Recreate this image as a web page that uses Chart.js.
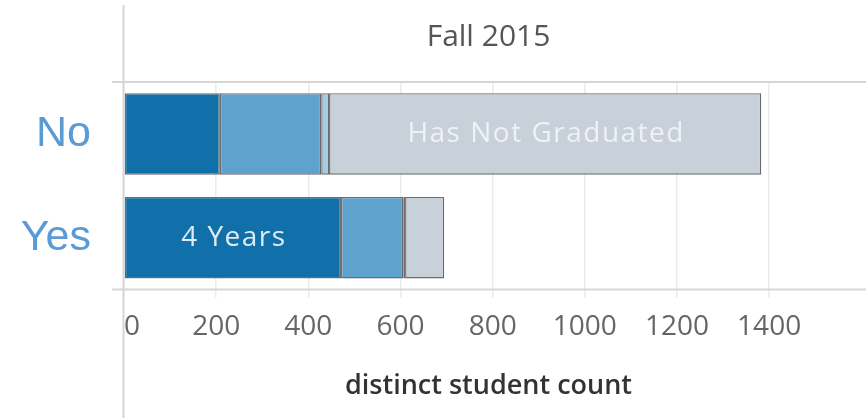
<!DOCTYPE html>
<html>
<head>
<meta charset="utf-8">
<script src="https://cdn.jsdelivr.net/npm/chart.js@4"></script>
<style>
  html, body { margin: 0; padding: 0; background: #fff; }
  #wrap { width: 866px; height: 418px; position: relative; }
</style>
</head>
<body>
<div id="wrap"><canvas id="c" width="866" height="418"></canvas></div>
<script>
// ---- data ----
const categories = ['No', 'Yes'];
const seriesNames = ['4 Years', '5 Years', '6 Years', 'Has Not Graduated'];
const fourYears = [208, 471];
const fiveYears = [220, 135];
const sixYears = [17, 4];
const notGraduated = [938, 85];
const xTickValues = [0, 200, 400, 600, 800, 1000, 1200, 1400];
const xAxisMax = 1582;
const headerText = 'Fall 2015';
const xAxisTitle = 'distinct student count';

const seriesValues = [fourYears, fiveYears, sixYears, notGraduated];
const seriesColors = ['#1170aa', '#5fa2ce', '#a3cce9', '#c8d0d9'];
const labelColors = ['rgba(235,241,246,0.95)', 'rgba(255,255,255,0.9)', 'rgba(255,255,255,0.9)', 'rgba(240,243,246,0.95)'];

const frame = {
  id: 'frame',
  beforeDatasetsDraw(chart) {
    const {ctx, chartArea: a} = chart;
    ctx.save();
    ctx.strokeStyle = '#d6d6d6';
    ctx.lineWidth = 2;
    ctx.beginPath();
    ctx.moveTo(a.left - 0.5, 5);
    ctx.lineTo(a.left - 0.5, chart.height);
    ctx.moveTo(a.left - 12, a.top);
    ctx.lineTo(chart.width, a.top);
    ctx.moveTo(a.left - 12, a.bottom);
    ctx.lineTo(chart.width, a.bottom);
    ctx.stroke();
    ctx.restore();
  }
};

const markLabels = {
  id: 'markLabels',
  afterDatasetsDraw(chart) {
    const {ctx} = chart;
    ctx.save();
    ctx.font = '28px "Open Sans"';
    ctx.letterSpacing = '1.5px';
    ctx.textAlign = 'center';
    ctx.textBaseline = 'middle';
    chart.data.datasets.forEach((ds, di) => {
      const meta = chart.getDatasetMeta(di);
      meta.data.forEach((bar) => {
        const w = Math.abs(bar.x - bar.base);
        const tw = ctx.measureText(ds.label).width;
        if (tw + 20 < w) {
          ctx.fillStyle = labelColors[di];
          ctx.fillText(ds.label, (bar.x + bar.base) / 2 + 1, bar.y);
        }
      });
    });
    ctx.restore();
  }
};

new Chart(document.getElementById('c'), {
  type: 'bar',
  data: {
    labels: categories,
    datasets: seriesNames.map((name, i) => ({
      label: name,
      data: seriesValues[i],
      backgroundColor: seriesColors[i],
      borderColor: '#6b6b6b',
      borderWidth: 1.4,
      borderSkipped: false,
      barPercentage: 0.785,
      categoryPercentage: 1.0
    }))
  },
  options: {
    indexAxis: 'y',
    responsive: false,
    animation: false,
    devicePixelRatio: 1,
    layout: { padding: 0 },
    plugins: {
      legend: { display: false },
      tooltip: { enabled: false },
      title: { display: false }
    },
    scales: {
      x: {
        type: 'linear',
        position: 'bottom',
        stacked: true,
        min: 0,
        max: xAxisMax,
        afterBuildTicks(scale) {
          scale.ticks = xTickValues.map(v => ({value: v})).concat([{value: xAxisMax}]);
        },
        grid: {
          color: (c) => (c.tick && xTickValues.includes(c.tick.value) ? '#ebebeb' : 'rgba(0,0,0,0)'),
          lineWidth: 1.5, drawTicks: true, tickLength: 8
        },
        border: { display: false },
        ticks: {
          autoSkip: false,
          maxRotation: 0,
          align: 'inner',
          padding: 13,
          color: '#666',
          font: { family: '"Open Sans"', size: 28 },
          callback: (v) => (xTickValues.includes(v) ? String(v) : '')
        },
        title: {
          display: true,
          text: xAxisTitle,
          color: '#333',
          font: { family: '"Open Sans"', size: 27, weight: '600' },
          padding: { top: 12.6, bottom: 15.8 }
        }
      },
      xTop: {
        type: 'linear',
        axis: 'x',
        position: 'top',
        grid: { display: false, drawTicks: false },
        border: { display: false },
        ticks: { display: false },
        title: {
          display: true,
          text: headerText,
          color: '#555',
          font: { family: '"Open Sans"', size: 30 },
          padding: { top: 19, bottom: 27 }
        }
      },
      y: {
        type: 'category',
        stacked: true,
        offset: true,
        grid: { display: false, drawTicks: false },
        border: { display: false },
        afterFit(scale) { scale.width = 124; },
        ticks: {
          padding: 33,
          color: '#5b9bd5',
          font: { family: '"Liberation Sans", Arial', size: 43 }
        }
      }
    }
  },
  plugins: [frame, markLabels]
});
</script>
</body>
</html>
